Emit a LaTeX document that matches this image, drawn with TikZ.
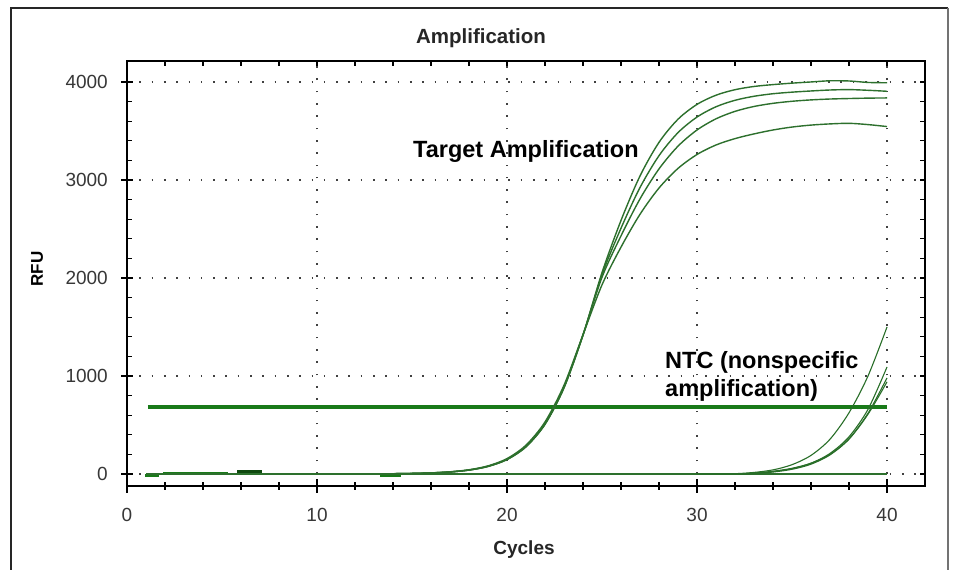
\documentclass[tikz,border=0pt]{standalone}
\usepackage{fontspec}
\setmainfont{Liberation Sans}
\definecolor{curvecol}{RGB}{45,112,45}
\definecolor{ntccol}{RGB}{40,110,40}
\definecolor{thrcol}{RGB}{25,122,25}
\definecolor{lblcol}{RGB}{55,55,55}
\tikzset{
  gridline/.style={black!75, line width=1.6bp, dash pattern=on 1.6bp off 10.7bp},
  tickline/.style={black, line width=1.1bp},
  ylab/.style={text=lblcol, inner sep=0pt, anchor=east, font=\fontsize{19bp}{22bp}\selectfont},
  xlab/.style={text=lblcol, inner sep=0pt, anchor=base, font=\fontsize{19bp}{22bp}\selectfont},
  boldlab/.style={inner sep=0pt, font=\bfseries\fontsize{23.5bp}{28bp}\selectfont},
  tcurve/.style={curvecol, line width=1.4bp, smooth, tension=0.5},
  ncurve/.style={ntccol, line width=1.1bp, smooth, tension=0.5},
  noise/.style={thrcol, line width=3bp}
}
\begin{document}
\begin{tikzpicture}[x=1bp,y=1bp]
\useasboundingbox (0,0) rectangle (953,570);
\fill[white] (0,0) rectangle (953,570);
% outer frame
\draw[black!85, line width=1.8bp] (11,0) -- (11,562) -- (948,562);
\draw[black!55, line width=1.8bp] (948,562) -- (948,0);
% title
\node[inner sep=0pt, anchor=base, font=\bfseries\fontsize{20.5bp}{24bp}\selectfont, text=black!85] (title) at (481,526) {Amplification};
% grid
\foreach \yy in {96,194,292,390,488} \draw[gridline] (127,\yy) -- (925,\yy);
\foreach \xx in {317,507,697,887} \draw[gridline] (\xx,84) -- (\xx,509);
% ticks
\foreach \k in {0,...,20} {
  \pgfmathsetmacro\xx{127+38*\k}
  \draw[tickline] (\xx,80) -- (\xx,88);
  \draw[tickline] (\xx,509) -- (\xx,504);
  \pgfmathsetmacro\yy{96+19.6*\k}
  \draw[tickline] (127,\yy) -- (132,\yy);
  \draw[tickline] (925,\yy) -- (920,\yy);
}
\foreach \xx in {127,317,507,697,887} \draw[tickline] (\xx,77) -- (\xx,91);
\foreach \yy in {96,194,292,390,488} \draw[tickline] (121,\yy) -- (133,\yy);
% axes box
\draw[black, line width=1.3bp] (127,84) rectangle (925,509);
% tick labels
\foreach \v/\yy in {0/96,1000/194,2000/292,3000/390,4000/488} \node[ylab] at (108,\yy) {\v};
\foreach \v/\xx in {0/127,10/317,20/507,30/697,40/887} \node[xlab] at (\xx,48) {\v};
% axis titles
\node[inner sep=0pt, rotate=90, font=\bfseries\fontsize{17bp}{20bp}\selectfont] (rfu) at (37,301) {RFU};
\node[inner sep=0pt, anchor=base, font=\bfseries\fontsize{19bp}{22bp}\selectfont, text=black!85] (cycles) at (524,15) {Cycles};
% data
\begin{scope}[shift={(127bp,96bp)}, x=19bp, y=0.098bp]
  \draw[thrcol, line width=3.6bp] (1.1,684) -- (40,684);
  % baseline noise
  \draw[noise] (0.95,-20) -- (1.7,-20);
  \draw[noise] (1.9,0) -- (5.3,0);
  \draw[noise, black!40!thrcol] (5.8,22) -- (7.1,22);
  \draw[noise] (13.3,-15) -- (14.4,-15);
  \draw[curvecol, line width=1.2bp] (1,0) -- (40,0);
  % target curves
  \draw[tcurve] plot coordinates {(1,0) (13,0) (14,2.5) (15,5.4) (16,10.6) (17,20.5) (18,39.8) (19,76.8) (20,147) (21,277) (22,506) (23,879) (24,1417) (25,2055) (26,2587) (27,3041) (28,3384) (29,3620) (30,3771) (31,3865) (32,3921) (33,3954) (34,3973) (35,3988) (36,4000) (37,4012) (38,4010) (39,3995) (40,3992)};
  \draw[tcurve] plot coordinates {(1,0) (13,0) (14,2.6) (15,5.5) (16,10.7) (17,20.8) (18,40.3) (19,77.8) (20,148.5) (21,279.6) (22,510) (23,884) (24,1419) (25,2034) (26,2508) (27,2923) (28,3248) (29,3483) (30,3642) (31,3747) (32,3813) (33,3854) (34,3880) (35,3896) (36,3908) (37,3918) (38,3922) (39,3915) (40,3905)};
  \draw[tcurve] plot coordinates {(1,0) (13,0) (14,2.6) (15,5.5) (16,10.8) (17,21) (18,40.6) (19,78.5) (20,149.8) (21,282) (22,513) (23,886) (24,1420) (25,2007) (26,2430) (27,2807) (28,3113) (29,3345) (30,3510) (31,3624) (32,3700) (33,3750) (34,3782) (35,3803) (36,3817) (37,3826) (38,3831) (39,3835) (40,3837)};
  \draw[tcurve] plot coordinates {(1,0) (13,0) (14,2.8) (15,5.9) (16,11.4) (17,22.2) (18,42.9) (19,82.7) (20,157) (21,294.5) (22,531) (23,906) (24,1421) (25,1930) (26,2315) (27,2650) (28,2918) (29,3118) (30,3260) (31,3357) (32,3422) (33,3470) (34,3510) (35,3540) (36,3560) (37,3572) (38,3578) (39,3565) (40,3545)};
  % NTC curves
  \draw[ncurve] plot coordinates {(30,0) (31,0) (32,3) (33,16) (34,42) (35,95) (36,190) (37,355) (38,625) (39,1000) (40,1500)};
  \draw[ncurve] plot coordinates {(30,0) (32,0) (33,8) (34,25) (35,55) (36,110) (37,210) (38,380) (39,660) (40,1092)};
  \draw[ncurve] plot coordinates {(30,0) (32,0) (33,10) (34,28) (35,58) (36,110) (37,200) (38,360) (39,620) (40,980)};
  \draw[ncurve] plot coordinates {(30,0) (32,0) (33,6) (34,20) (35,48) (36,100) (37,195) (38,355) (39,610) (40,940)};
\end{scope}
% annotations
\node[boldlab, anchor=base west] (target) at (413,412) {Target Amplification};
\node[boldlab, anchor=base west] (ntc1) at (665,201) {NTC (nonspecific};
\node[boldlab, anchor=base west] (ntc2) at (665,173) {amplification)};
\end{tikzpicture}
\end{document}
